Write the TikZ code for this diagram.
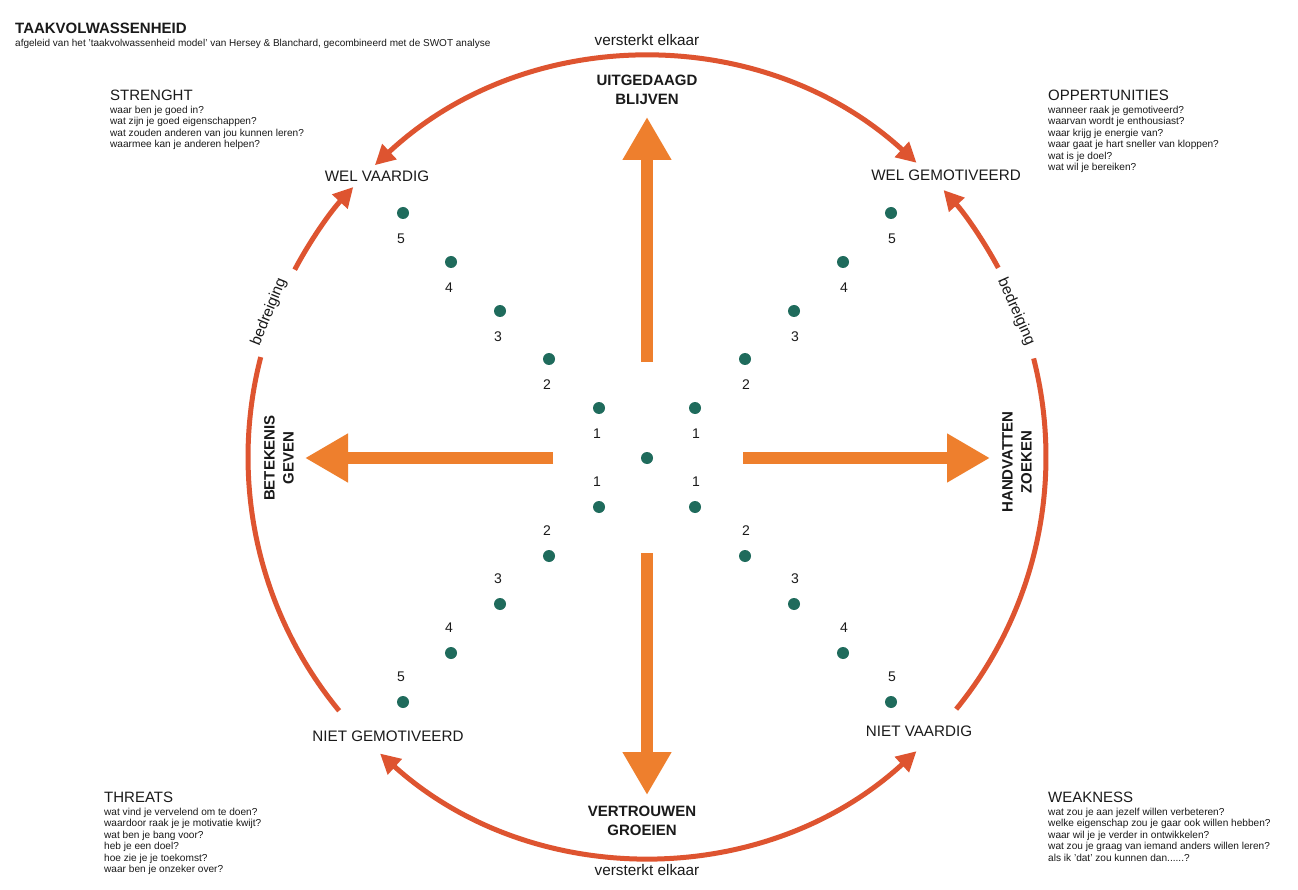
\documentclass[tikz,border=0pt]{standalone}
\usepackage{fontspec}
\setmainfont{Liberation Sans}
\usetikzlibrary{arrows.meta}
\definecolor{arcred}{HTML}{DE5430}
\definecolor{arrorange}{HTML}{EE7F2D}
\definecolor{dotteal}{HTML}{1F6B5C}
\definecolor{txt}{HTML}{1A1A1A}
\begin{document}
\begin{tikzpicture}[x=1pt,y=-1pt,
  every node/.style={text=txt, inner sep=0pt},
  corner/.style={font=\fontsize{15.2}{18}\selectfont},
  heading/.style={font=\fontsize{15}{18}\selectfont, anchor=west},
  body/.style={font=\fontsize{10.1}{11.4}\selectfont, anchor=north west, align=left},
  boldlab/.style={font=\bfseries\fontsize{15}{19}\selectfont, align=center},
  relation/.style={font=\fontsize{15.3}{18}\selectfont},
  numlab/.style={font=\fontsize{14}{16}\selectfont},
  dot/.style={circle, fill=dotteal, minimum size=12pt},
  bigarrow/.style={arrorange, line width=12pt, -{Triangle[width=46pt,length=43pt]}},
  ring/.style={arcred, line width=5pt},
  ringtip/.style={ring, -{Triangle[width=20pt,length=20pt]}},
  ringboth/.style={ring, {Triangle[width=20pt,length=20pt]}-{Triangle[width=20pt,length=20pt]}}
]
\useasboundingbox (0,0) rectangle (1298,890);
\fill[white] (0,0) rectangle (1298,890);

\coordinate (C) at (647,457);

% title
\node[anchor=west, font=\bfseries\fontsize{15}{18}\selectfont] (title) at (15,28) {TAAKVOLWASSENHEID};
\node[anchor=west, font=\fontsize{10}{11}\selectfont] (subtitle) at (15,44) {afgeleid van het 'taakvolwassenheid model' van Hersey \& Blanchard, gecombineerd met de SWOT analyse};

% SWOT blocks
\node[heading] (sh) at (110,95) {STRENGHT};
\node[body] (sb) at (110,106) {waar ben je goed in?\\wat zijn je goed eigenschappen?\\wat zouden anderen van jou kunnen leren?\\waarmee kan je anderen helpen?};
\node[heading] (oh) at (1048,95) {OPPERTUNITIES};
\node[body] (ob) at (1048,106) {wanneer raak je gemotiveerd?\\waarvan wordt je enthousiast?\\waar krijg je energie van?\\waar gaat je hart sneller van kloppen?\\wat is je doel?\\wat wil je bereiken?};
\node[heading] (th) at (104,797) {THREATS};
\node[body] (tb) at (104,808) {wat vind je vervelend om te doen?\\waardoor raak je je motivatie kwijt?\\wat ben je bang voor?\\heb je een doel?\\hoe zie je je toekomst?\\waar ben je onzeker over?};
\node[heading] (wh) at (1048,797) {WEAKNESS};
\node[body] (wb) at (1048,808) {wat zou je aan jezelf willen verbeteren?\\welke eigenschap zou je gaar ook willen hebben?\\waar wil je je verder in ontwikkelen?\\wat zou je graag van iemand anders willen leren?\\als ik 'dat' zou kunnen dan......?};

% relation labels
\node[relation] (vtop) at (647,40) {versterkt elkaar};
\node[relation] (vbot) at (647,870) {versterkt elkaar};
\node[relation, rotate=68] (bl) at (269,312) {bedreiging};
\node[relation, rotate=-66] (br) at (1016,312) {bedreiging};

% corner labels
\node[corner] (wv) at (377,176) {WEL VAARDIG};
\node[corner] (wg) at (946,175) {WEL GEMOTIVEERD};
\node[corner] (ng) at (388,736) {NIET GEMOTIVEERD};
\node[corner] (nv) at (919,731) {NIET VAARDIG};

% bold direction labels
\node[boldlab] (up) at (647,90) {UITGEDAAGD\\BLIJVEN};
\node[boldlab] (down) at (642,821) {VERTROUWEN\\GROEIEN};
\node[boldlab, rotate=90] (left) at (279,458) {BETEKENIS\\GEVEN};
\node[boldlab, rotate=90] (right) at (1017,462) {HANDVATTEN\\ZOEKEN};

% ring arcs
\draw[ringboth] (C) ++(227:399) arc[start angle=227, end angle=312.5, radius=399];
\draw[ringboth] (C) ++(132:399) arc[start angle=132, end angle=47.5, radius=399];
\draw[ring] (C) ++(140.5:399) arc[start angle=140.5, end angle=194.5, radius=399];
\draw[ringtip] (C) ++(208:399) arc[start angle=208, end angle=222.6, radius=399];
\draw[ring] (C) ++(39.2:399) arc[start angle=39.2, end angle=-14.3, radius=399];
\draw[ringtip] (C) ++(-28.3:399) arc[start angle=-28.3, end angle=-42, radius=399];

% big orange arrows
\coordinate (aus) at (647,362); \coordinate (aut) at (647,117);
\coordinate (als) at (553,458); \coordinate (alt) at (305,458);
\coordinate (ars) at (743,458); \coordinate (art) at (990,458);
\coordinate (ads) at (647,553); \coordinate (adt) at (647,795);
\draw[bigarrow] (aus) -- (aut);
\draw[bigarrow] (als) -- (alt);
\draw[bigarrow] (ars) -- (art);
\draw[bigarrow] (ads) -- (adt);

% dots
\node[dot] (d0) at (647,458) {};
\foreach \i/\dx/\dy in {1/48/49, 2/98/98, 3/147/146, 4/196/195, 5/244/244} {
  \node[dot] (ul\i) at (647-\dx,457-\dy) {};
  \node[dot] (ur\i) at (647+\dx,457-\dy) {};
  \node[dot] (ll\i) at (647-\dx,458+\dy) {};
  \node[dot] (lr\i) at (647+\dx,458+\dy) {};
  \node[numlab] (nul\i) at (647-\dx-2,457-\dy+26) {\i};
  \node[numlab] (nur\i) at (647+\dx+1,457-\dy+26) {\i};
  \node[numlab] (nll\i) at (647-\dx-2,458+\dy-25) {\i};
  \node[numlab] (nlr\i) at (647+\dx+1,458+\dy-25) {\i};
}
\end{tikzpicture}
\end{document}
